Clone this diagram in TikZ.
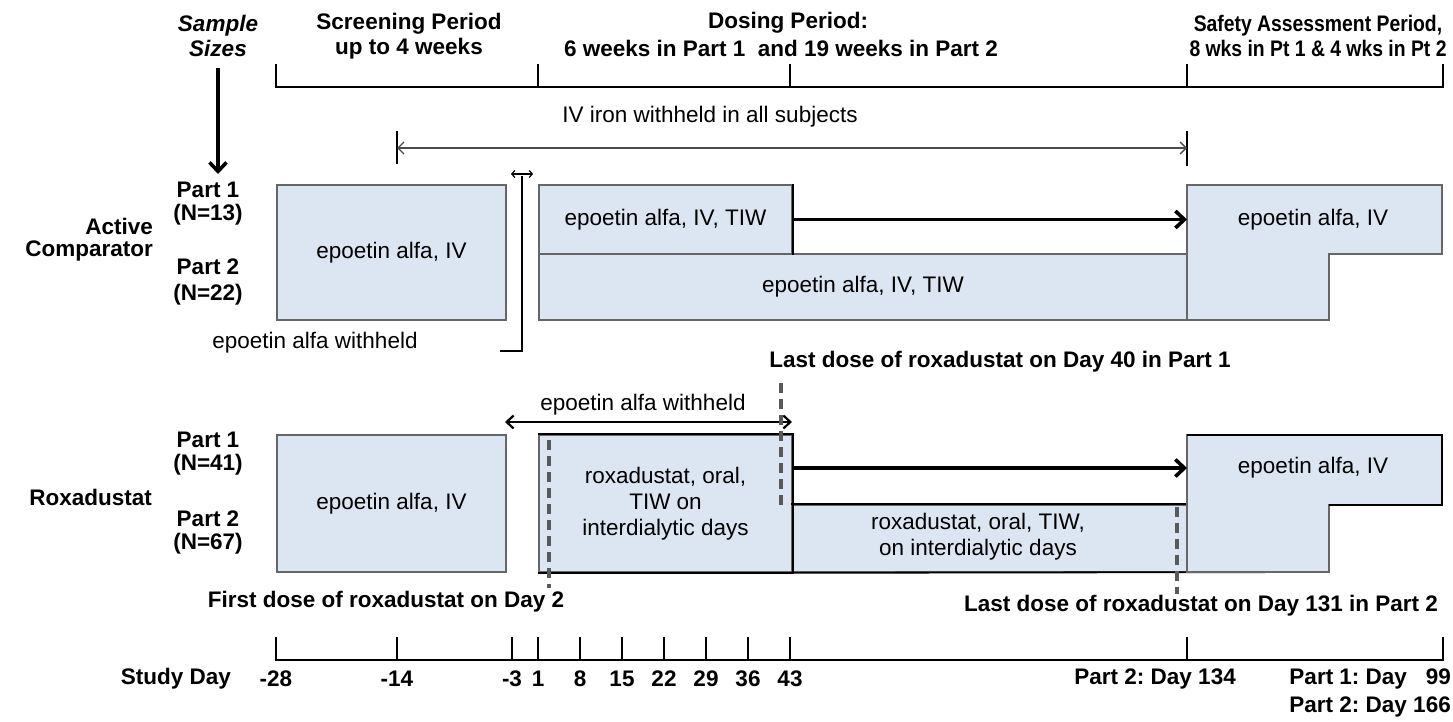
\documentclass[tikz,border=0pt]{standalone}
\usepackage{fontspec}
\setmainfont{Liberation Sans}
\usetikzlibrary{arrows.meta}
\definecolor{boxblue}{HTML}{DCE6F2}
\frenchspacing
\newcommand\myrg{\fontsize{22.5}{25}\selectfont}
\newcommand\mybd{\fontsize{22.5}{25}\selectfont\bfseries}
\tikzset{
  blk/.style={draw=black!60, fill=boxblue, line width=1.6pt, inner sep=0pt, align=center, font=\myrg},
  blkline/.style={draw=black!60, fill=boxblue, line width=1.6pt},
  rg/.style={inner sep=0pt, align=center, font=\myrg},
  bd/.style={inner sep=0pt, align=center, font=\mybd},
  tl/.style={line width=2pt, black},
  bigarrow/.style={line width=3.6pt, -{Straight Barb[length=9pt,width=17pt]}},
  thinarrow/.style={line width=1.4pt, black!70, {Straight Barb[length=6pt,width=12pt]}-{Straight Barb[length=6pt,width=12pt]}},
  dbarrow/.style={line width=2.2pt, {Straight Barb[length=7pt,width=13pt]}-{Straight Barb[length=7pt,width=13pt]}},
  dashv/.style={line width=3.2pt, black!65, dash pattern=on 10pt off 6pt},
}
\begin{document}
\begin{tikzpicture}[x=1pt,y=-1pt]
\useasboundingbox (0,0) rectangle (1453,722);
\fill[white] (0,0) rectangle (1453,722);

% ---------- headers ----------
\node[bd] (ss) at (218,36) {\itshape Sample\\[0pt]\itshape Sizes};
\node[bd] (scr) at (409,36) {Screening Period\\up to 4 weeks};
\node[bd] (dos1) at (788,23) {Dosing Period:};
\node[bd] (dos2) at (781,48) {6 weeks in Part 1\ \ and 19 weeks in Part 2};
\node[bd] (saf) at (1318,36) {\scalebox{0.86}[1]{Safety Assessment Period,}\\\scalebox{0.86}[1]{8 wks in Pt 1 \& 4 wks in Pt 2}};

% top timeline
\draw[tl] (276,64) -- (276,87) -- (1443,87) -- (1443,64);
\foreach \x in {538,790,1187} \draw[tl] (\x,64) -- (\x,87);

% sample sizes arrow
\coordinate (ssend) at (218,174);
\draw[bigarrow] (ss.south |- 0,68) -- (ssend);

% IV iron withheld
\node[rg] (iv) at (710,117) {IV iron withheld in all subjects};
\coordinate (ivl) at (397,148);
\coordinate (ivr) at (1187,148);
\draw[line width=1.8pt] (397,131) -- (397,164);
\draw[line width=1.8pt] (1187,131) -- (1187,166);
\draw[thinarrow] (ivl) -- (ivr);

% ---------- Active comparator ----------
\node[bd, anchor=east] (act) at (153,240) {\begin{tabular}{@{}r@{}}Active\\[-3pt]Comparator\end{tabular}};
\node[bd] (a1) at (208,204) {Part 1\\[-2pt](N=13)};
\node[bd] (a2) at (208,282) {Part 2\\[1pt](N=22)};

\node[blk, minimum width=229pt, minimum height=135pt] (ac1) at (391.5,252.5) {epoetin alfa, IV};
\node[blk, minimum width=648pt, minimum height=66pt] (acp2) at (863,287) {epoetin alfa, IV, TIW};
\node[blk, minimum width=253pt, minimum height=69pt] (acp1) at (665.5,219.5) {epoetin alfa, IV, TIW};
\draw[line width=1.8pt] (acp1.north east) -- (acp1.south east);
\draw[blkline] (1187,185) -- (1442,185) -- (1442,254) -- (1329,254) -- (1329,320) -- (1187,320) -- cycle;
\node[rg] (acs) at (1313,220) {epoetin alfa, IV};
\coordinate (acsw) at (1187,219.5);
\draw[bigarrow] (acp1.east) -- (acsw);

% epoetin withheld bracket (active)
\node[rg] (aw) at (315,343) {epoetin alfa withheld};
\coordinate (brt) at (522,176);
\coordinate (brb) at (522,351);
\coordinate (brl) at (500,351);
\draw[line width=2pt] (brt) -- (brb) -- (brl);
\draw[line width=1.2pt, {Straight Barb[length=3pt,width=7pt]}-{Straight Barb[length=3pt,width=7pt]}] (511,174) -- (533,174);

\node[bd] (ld40) at (1000,362) {Last dose of roxadustat on Day 40 in Part 1};

% ---------- Roxadustat ----------
\node[bd, anchor=east] (rox) at (152,497) {Roxadustat};
\node[bd] (r1) at (208,454) {Part 1\\[-2pt](N=41)};
\node[bd] (r2) at (208,532) {Part 2\\[-2pt](N=67)};

\node[rg] (rw) at (643,405) {epoetin alfa withheld};
\coordinate (rwl) at (505,422);
\coordinate (rwr) at (792,422);
\draw[dbarrow] (rwl) -- (rwr);

\node[blk, minimum width=229pt, minimum height=137pt] (rx1) at (391.5,503.5) {epoetin alfa, IV};
\node[blk, minimum width=395pt, minimum height=67pt] (rxp2) at (989.5,538.5) {};
\node[rg] (rxp2t) at (978,537) {roxadustat, oral, TIW,\\[1pt]on interdialytic days};
\node[blk, minimum width=253pt, minimum height=137pt] (rx2) at (665.5,503.5) {roxadustat, oral,\\[1pt]TIW on\\[1pt]interdialytic days};
\draw[line width=1.8pt] (rx2.north west) -- (rx2.north east) -- (rx2.south east) -- (rx2.south west);
\draw[line width=1.8pt] (rxp2.north west) -- (rxp2.north east);
\draw[line width=1.8pt] (rxp2.south west) -- (1329,572);
\draw[blkline] (1187,435) -- (1442,435) -- (1442,505) -- (1329,505) -- (1329,572) -- (1187,572) -- cycle;
\draw[line width=1.8pt] (1187,435) -- (1442,435) -- (1442,505) -- (1329,505);
\node[rg] (rxs) at (1313,468) {epoetin alfa, IV};
\coordinate (rxsw) at (1187,468);
\draw[bigarrow] (rx2.east |- rxs) -- (rxsw);

% dashed markers
\draw[dashv] (781,383) -- (781,505);
\draw[dashv] (549,440) -- (549,588);
\draw[dashv] (1177,507) -- (1177,594);

\node[bd] (fd) at (386,602) {First dose of roxadustat on Day 2};
\node[bd] (ld131) at (1201,606) {Last dose of roxadustat on Day 131 in Part 2};

% ---------- bottom timeline ----------
\draw[tl] (276,637) -- (276,660) -- (1443,660) -- (1443,637);
\foreach \x in {397,512,538,580,622,664,706,748,790,1187} \draw[tl] (\x,637) -- (\x,660);
\node[bd, anchor=east] (sd) at (231,679) {Study Day};
\foreach \x/\l in {276/-28,397/-14,512/-3,538/1,580/8,622/15,664/22,706/29,748/36,790/43}
  \node[bd] at (\x,679) {\l};
\node[bd, anchor=east] (p2d) at (1236,679) {Part 2: Day 134};
\node[bd, anchor=east] (p1d) at (1451,679) {Part 1: Day\ \ \ 99};
\node[bd, anchor=east] (p2e) at (1451,707) {Part 2: Day 166};
\end{tikzpicture}
\end{document}
